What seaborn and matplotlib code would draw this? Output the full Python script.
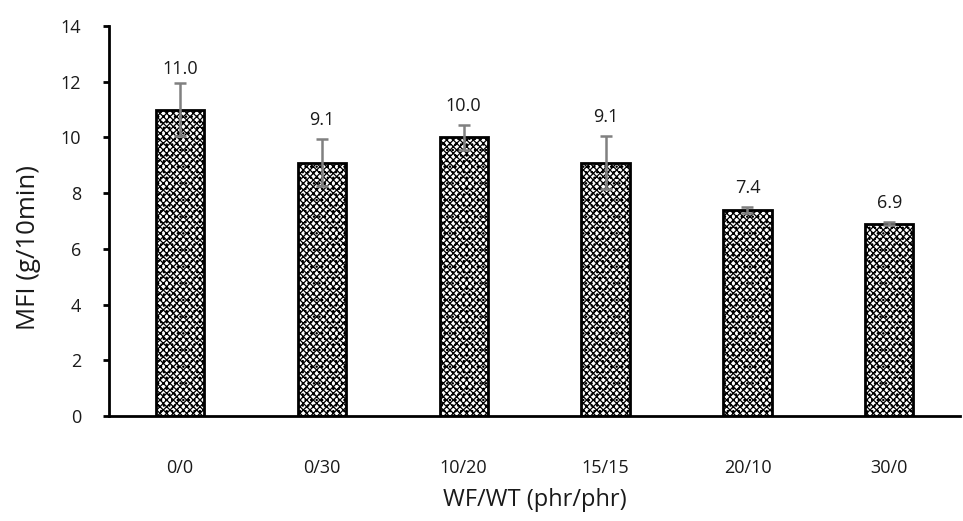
import matplotlib
matplotlib.use("Agg")
import matplotlib.pyplot as plt
import seaborn as sns
import pandas as pd

categories = ["0/0", "0/30", "10/20", "15/15", "20/10", "30/0"]
mfi = [11.0, 9.1, 10.0, 9.1, 7.4, 6.9]
mfi_err = [0.95, 0.85, 0.45, 0.95, 0.1, 0.06]
value_labels = ["11.0", "9.1", "10.0", "9.1", "7.4", "6.9"]
y_ticks = [0, 2, 4, 6, 8, 10, 12, 14]

sns.set_theme(style="white")
plt.rcParams['font.family'] = ['Open Sans', 'DejaVu Sans']
plt.rcParams['hatch.linewidth'] = 0.9
plt.rcParams['hatch.color'] = 'black'

df = pd.DataFrame({"cat": categories, "mfi": mfi})

fig = plt.figure(figsize=(9.63, 5.21), dpi=100)
ax = fig.add_axes([0.1132, 0.2015, 0.884, 0.7485])

sns.barplot(data=df, x="cat", y="mfi", ax=ax, color="white", width=0.34,
            edgecolor="black", linewidth=2.0, errorbar=None)
for p in ax.patches:
    p.set_hatch("xxxxx...")
    p.set_facecolor("white")
    p.set_edgecolor("black")

xs = list(range(len(categories)))
ax.errorbar(xs, mfi, yerr=mfi_err, fmt="none", ecolor="#808080",
            elinewidth=1.8, capsize=4.3, capthick=1.8, zorder=5)

offsets = [4, 7, 7, 7, 7, 7]
for x, v, e, lab, off in zip(xs, mfi, mfi_err, value_labels, offsets):
    ax.annotate(lab, (x, v + e), xytext=(0, off), textcoords="offset points",
                ha="center", va="bottom", fontsize=13, color="#1a1a1a")

ax.set_ylim(0, 14)
ax.set_xlim(-0.5, 5.5)
ax.set_yticks(y_ticks)
ax.set_yticklabels([str(t) for t in y_ticks])
ax.tick_params(axis="y", left=True, length=4, width=2, color="black",
               labelsize=13, pad=16, labelcolor="#1a1a1a")
ax.tick_params(axis="x", bottom=False, labelsize=13, pad=25, labelcolor="#1a1a1a")

for s in ["top", "right"]:
    ax.spines[s].set_visible(False)
for s in ["left", "bottom"]:
    ax.spines[s].set_color("black")
    ax.spines[s].set_linewidth(2.0)

ax.set_xlabel("WF/WT (phr/phr)", fontsize=17, color="#1a1a1a", va="center")
ax.set_ylabel("MFI (g/10min)", fontsize=18.5, color="#1a1a1a", va="center", ha="center")
ax.xaxis.set_label_coords(0.5006, -0.215)
ax.yaxis.set_label_coords(-0.095, 0.433)
ax.grid(False)

fig.savefig("out.png", dpi=100)
